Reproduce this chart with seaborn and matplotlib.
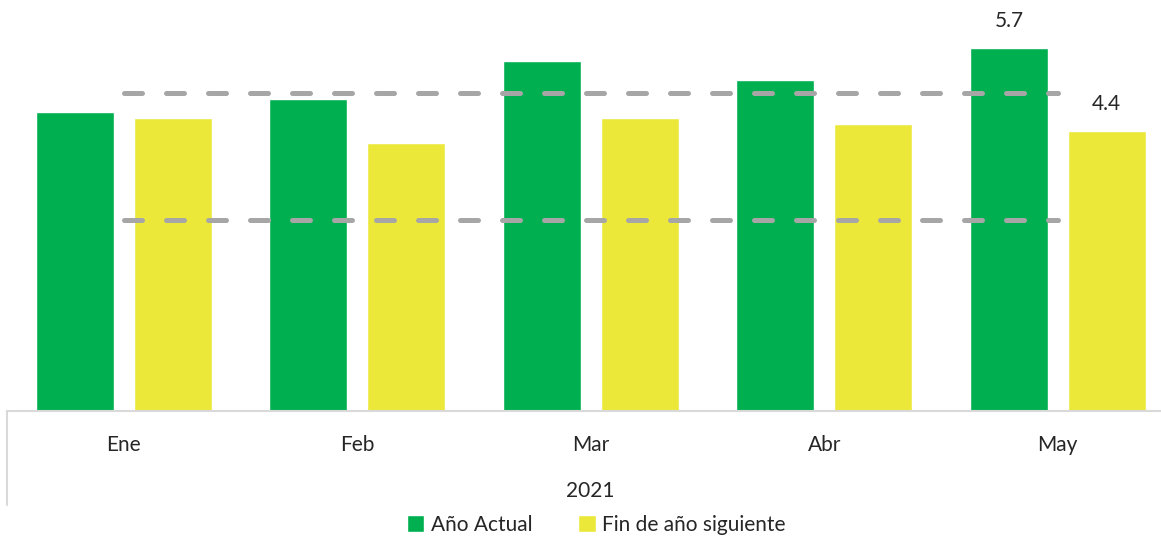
import pandas as pd
import matplotlib.pyplot as plt
import seaborn as sns

meses = ["Ene", "Feb", "Mar", "Abr", "May"]
anio_actual = [4.7, 4.9, 5.5, 5.2, 5.7]
fin_siguiente = [4.6, 4.2, 4.6, 4.5, 4.4]
rango_meta = [3.0, 5.0]
series = ["Año Actual", "Fin de año siguiente"]
colores = ["#00B050", "#EBE83A"]

df = pd.DataFrame({"mes": meses * 2,
                   "valor": anio_actual + fin_siguiente,
                   "serie": [series[0]] * 5 + [series[1]] * 5})

sns.set_theme(style="white")
plt.rcParams['font.family'] = ['Lato', 'DejaVu Sans']

fig = plt.figure(figsize=(11.61, 5.37), dpi=100)
ax = fig.add_axes([7 / 1161, 126 / 537, 1154 / 1161, 411 / 537])

sns.barplot(data=df, x="mes", y="valor", hue="serie", palette=colores,
            width=0.836, gap=0.2, ax=ax, legend=True, saturation=1)

# rango meta (lineas discontinuas)
for r in rango_meta:
    ax.plot([0, len(meses) - 1], [r, r], color="#A6A6A6", lw=3.6,
            linestyle=(0, (3.6, 4.8)), dash_capstyle="round", zorder=3)

ax.set_xlim(-0.5, (1161 - 7) / 233.5 - 0.5)
ax.set_ylim(0, 411 / 63.7)

# etiquetas solo para el ultimo mes
for cont in ax.containers:
    bar = cont[-1]
    ax.annotate(f"{bar.get_height():.1f}",
                (bar.get_x() + bar.get_width() / 2, bar.get_height()),
                xytext=(0, 12), textcoords="offset points",
                ha="center", va="bottom", fontsize=15)

ax.set_yticks([])
ax.set_xlabel("")
ax.set_ylabel("")
ax.tick_params(axis="x", length=0, labelsize=15, pad=17)
for s in ["top", "right", "left"]:
    ax.spines[s].set_visible(False)
ax.spines["bottom"].set_color("#D9D9D9")
ax.spines["bottom"].set_linewidth(1.5)

# segundo nivel del eje
fig.text(590 / 1161, 1 - 491 / 537, "2021", ha="center", va="center", fontsize=15)
fig.add_artist(plt.Line2D([7 / 1161, 7 / 1161], [1 - 411 / 537, 1 - 505 / 537],
                          color="#D9D9D9", lw=1.5))

handles, labels = ax.get_legend_handles_labels()
ax.get_legend().remove()
fig.legend(handles, labels, loc="center", bbox_to_anchor=(596 / 1161, 1 - 525 / 537),
           ncol=2, frameon=False, fontsize=15, handlelength=0.85, handleheight=0.85,
           handletextpad=0.3, columnspacing=2.2, borderaxespad=0)

fig.savefig("out.png", dpi=100)
